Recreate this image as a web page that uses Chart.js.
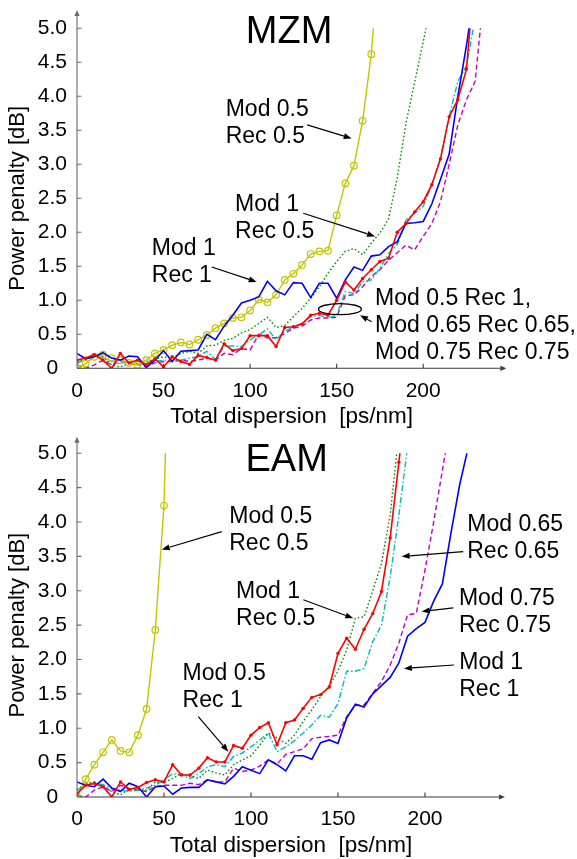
<!DOCTYPE html>
<html><head><meta charset="utf-8">
<script src="https://cdn.jsdelivr.net/npm/chart.js@4.4.1/dist/chart.umd.min.js"></script>
<style>
html,body{margin:0;padding:0;background:#fff;}
#wrap{position:relative;width:577px;height:859px;overflow:hidden;background:#fff;}
canvas{position:absolute;left:0;}
</style></head><body>
<div id="wrap">
<canvas id="mzm" width="577" height="430" style="top:0px"></canvas>
<canvas id="eam" width="577" height="429" style="top:430px"></canvas>
</div>
<script>
// ---------- data ----------
const dispersion = [0,5,10,15,20,25,30,35,40,45,50,55,60,65,70,75,80,85,90,95,100,105,110,115,120,125,130,135,140,145,150,155,160,165,170,175,180,185,190,195,200,205,210,215,220,225,230,235];
const xTickValues = [0,50,100,150,200];
const xTickLabels = ['0','50','100','150','200'];
const yTickValues = [0,0.5,1,1.5,2,2.5,3,3.5,4,4.5,5];
const yTickLabels = ['0','0.5','1.0','1.5','2.0','2.5','3.0','3.5','4.0','4.5','5.0'];
const xAxisTitle = 'Total dispersion  [ps/nm]';
const yAxisTitle = 'Power penalty [dB]';

// MZM panel
const mzmMod05Rec05 = [0.00,0.07,0.17,0.20,0.15,0.12,0.08,0.05,0.12,0.22,0.27,0.34,0.38,0.35,0.42,0.49,0.59,0.66,0.74,0.75,0.85,1.01,0.97,1.08,1.30,1.39,1.52,1.68,1.72,1.73,2.25,2.72,2.98,3.64,4.62,6.20];
const mzmMod1Rec05 = [0.10,0.12,0.20,0.17,0.05,0.02,0.07,0.06,0.10,0.13,0.17,0.15,0.22,0.25,0.22,0.33,0.34,0.41,0.44,0.52,0.57,0.66,0.75,0.60,0.63,0.76,0.88,1.03,1.20,1.40,1.57,1.72,1.76,1.67,1.84,1.99,2.20,2.80,3.60,4.20,4.80,5.40];
const mzmMod1Rec1 = [0.22,0.14,0.17,0.23,0.15,0.12,0.18,0.17,0.01,0.12,0.26,0.10,0.25,0.26,0.27,0.50,0.42,0.62,0.78,0.96,1.00,1.05,1.28,1.14,1.08,1.26,1.25,1.04,1.25,1.25,1.03,1.30,1.49,1.44,1.65,1.67,1.79,1.86,2.13,2.14,2.16,2.42,2.78,3.15,4.00,4.75,5.60];
const mzmMod05Rec1 = [0.12,0.15,0.20,0.12,0.00,0.22,0.08,0.12,0.05,0.14,0.02,0.17,0.10,0.06,0.19,0.16,0.12,0.36,0.26,0.29,0.48,0.48,0.48,0.32,0.60,0.61,0.65,0.78,0.81,0.78,1.00,1.27,1.15,1.32,1.45,1.57,1.62,2.00,2.13,2.30,2.45,2.70,3.08,3.70,3.95,4.40,5.90];
const mzmMod065Rec065 = [0.07,0.15,0.20,0.15,0.10,0.12,0.08,0.05,0.07,0.10,0.12,0.12,0.12,0.15,0.17,0.25,0.13,0.32,0.33,0.32,0.42,0.49,0.58,0.42,0.54,0.61,0.66,0.76,0.78,0.74,0.78,1.13,1.10,1.27,1.30,1.47,1.69,1.82,2.18,2.28,2.38,2.70,3.10,3.70,4.22,4.45,5.15];
const mzmMod075Rec075 = [0.05,0.00,0.05,0.12,0.05,0.10,0.07,0.06,0.03,0.08,0.10,0.10,0.12,0.10,0.12,0.15,0.12,0.22,0.20,0.29,0.27,0.50,0.45,0.45,0.51,0.59,0.62,0.71,0.74,0.74,0.75,1.07,1.08,1.20,1.35,1.45,1.59,1.70,1.81,1.74,1.94,2.13,2.45,3.00,3.58,3.95,4.22,5.50];

// EAM panel
const eamMod05Rec05 = [0.00,0.26,0.47,0.65,0.83,0.67,0.65,0.90,1.28,2.43,4.24,9.00];
const eamMod05Rec1 = [0.05,0.17,0.20,0.15,0.00,0.22,0.11,0.14,0.21,0.25,0.22,0.47,0.32,0.32,0.42,0.57,0.51,0.51,0.75,0.71,0.90,1.01,1.08,0.76,1.08,1.12,1.29,1.45,1.49,1.60,2.09,2.31,2.15,2.44,2.67,2.99,3.77,4.87,6.00];
const eamMod1Rec05 = [0.10,0.20,0.22,0.15,0.08,0.03,0.12,0.10,0.10,0.22,0.21,0.27,0.34,0.30,0.27,0.39,0.35,0.32,0.47,0.54,0.60,0.75,0.93,0.86,0.78,0.90,1.10,1.27,1.46,1.62,1.83,2.14,2.60,2.62,3.00,3.40,4.10,5.30];
const eamMod065Rec065 = [0.10,0.17,0.20,0.18,0.12,0.10,0.08,0.10,0.13,0.17,0.25,0.34,0.32,0.27,0.34,0.44,0.47,0.44,0.59,0.64,0.73,0.83,0.93,0.66,0.73,0.82,0.93,1.05,1.19,1.16,1.36,1.83,1.83,1.87,2.26,2.50,3.20,4.10,5.10];
const eamMod075Rec075 = [0.03,0.00,0.10,0.15,0.08,0.17,0.12,0.10,0.08,0.15,0.17,0.17,0.17,0.20,0.18,0.25,0.22,0.22,0.42,0.37,0.39,0.45,0.54,0.48,0.62,0.66,0.70,0.85,0.87,0.88,0.90,1.17,1.33,1.34,1.51,1.68,1.92,2.24,2.65,2.67,3.30,4.00,4.75,5.50];
const eamMod1Rec1 = [0.22,0.17,0.15,0.26,0.13,0.08,0.20,0.15,0.00,0.15,0.16,0.04,0.13,0.14,0.14,0.25,0.22,0.19,0.30,0.44,0.39,0.34,0.54,0.47,0.38,0.60,0.60,0.55,0.79,0.83,0.78,1.15,1.35,1.31,1.50,1.62,1.74,1.95,2.34,2.45,2.54,2.85,3.10,3.85,4.55,5.10];

// annotations (anchored in data units)
const mzmNotes = [
  {lines:['Mod 0.5','Rec 0.5'], at:[85.9,3.80], from:[133.0,3.58], to:[158.7,3.38]},
  {lines:['Mod 1','Rec 0.5'], at:[91.3,2.40], from:[130.7,2.28], to:[172.2,1.94]},
  {lines:['Mod 1','Rec 1'], at:[43.2,1.76], from:[77.8,1.49], to:[103.8,1.27]},
  {lines:['Mod 0.5 Rec 1,','Mod 0.65 Rec 0.65,','Mod 0.75 Rec 0.75'], at:[172.2,1.03], from:[170.2,0.685], to:[163.5,0.78]}
];
const mzmEllipse = {center:[151.9,0.87]};
const eamNotes = [
  {lines:['Mod 0.5','Rec 0.5'], at:[87.5,4.08], from:[83.2,3.86], to:[48.7,3.60]},
  {lines:['Mod 1','Rec 0.5'], at:[91.4,2.99], from:[130.1,2.87], to:[158.8,2.60]},
  {lines:['Mod 0.65','Rec 0.65'], at:[224.3,3.96], from:[222.0,3.57], to:[186.6,3.50]},
  {lines:['Mod 0.75','Rec 0.75'], at:[219.5,2.89], from:[216.3,2.75], to:[198.1,2.70]},
  {lines:['Mod 1','Rec 1'], at:[219.7,1.95], from:[216.7,1.92], to:[187.9,1.87]},
  {lines:['Mod 0.5','Rec 1'], at:[60.7,1.80], from:[69.7,1.17], to:[87.0,0.66]}
];

// ---------- rendering ----------
const FONT = '"Liberation Sans", Arial, Helvetica, sans-serif';
Chart.defaults.font.family = FONT;
Chart.defaults.color = '#000';

const STYLES = {
  red:    {borderColor:'#ff0000', borderWidth:1.6, pointRadius:1.7, pointBackgroundColor:'#ff0000', pointBorderWidth:0},
  blue:   {borderColor:'#0000ff', borderWidth:1.6},
  yellow: {borderColor:'#c4c400', borderWidth:1.4, pointRadius:3.3, pointBackgroundColor:'rgba(0,0,0,0)', pointBorderColor:'#c4c400', pointBorderWidth:1.2},
  green:  {borderColor:'#0a8c0a', borderWidth:1.4, borderDash:[1.6,2.2]},
  cyan:   {borderColor:'#00bcbc', borderWidth:1.4, borderDash:[6,2.2,1.6,2.2]},
  magenta:{borderColor:'#c000c0', borderWidth:1.4, borderDash:[5,3]}
};

function series(values, style) {
  return Object.assign({
    data: values.map((v,i) => ({x: dispersion[i], y: v})),
    showLine:true, tension:0, clip:0, fill:false, pointRadius:0, pointHoverRadius:0
  }, style);
}

function drawArrow(ctx, x1, y1, x2, y2, len, half) {
  const a = Math.atan2(y2-y1, x2-x1);
  const bx = x2 - len*Math.cos(a), by = y2 - len*Math.sin(a);
  ctx.beginPath(); ctx.moveTo(x1,y1); ctx.lineTo(bx,by); ctx.stroke();
  ctx.beginPath(); ctx.moveTo(x2,y2);
  ctx.lineTo(bx + half*Math.sin(a), by - half*Math.cos(a));
  ctx.lineTo(bx - half*Math.sin(a), by + half*Math.cos(a));
  ctx.closePath(); ctx.fill();
}

function decor(panel) {
  return {
    id:'decor',
    afterDraw(chart) {
      const ctx = chart.ctx, xs = chart.scales.x, ys = chart.scales.y;
      const X = v => xs.getPixelForValue(v), Y = v => ys.getPixelForValue(v);
      const x0 = X(0), y0 = Y(0);
      ctx.save();
      // y axis with arrow
      ctx.lineWidth = 1.1;
      ctx.strokeStyle = ctx.fillStyle = '#6a6a6a';
      drawArrow(ctx, x0, y0, x0, Y(panel.yArrow), 6, 2.6);
      ctx.beginPath();
      yTickValues.forEach(v => { if (v > 0) { ctx.moveTo(x0, Y(v)); ctx.lineTo(x0+4.5, Y(v)); } });
      ctx.stroke();
      // x axis with arrow
      ctx.strokeStyle = ctx.fillStyle = '#3a3a3a';
      drawArrow(ctx, x0, y0, X(panel.xMax), y0, 6, 2.6);
      ctx.beginPath();
      xTickValues.forEach(v => { if (v > 0) { ctx.moveTo(X(v), y0); ctx.lineTo(X(v), y0-4.5); } });
      ctx.stroke();
      // panel title
      ctx.fillStyle = '#000';
      ctx.font = '38px ' + FONT;
      ctx.textAlign = 'center'; ctx.textBaseline = 'middle';
      ctx.fillText(panel.title, X(panel.titleAt[0]), Y(panel.titleAt[1]));
      // annotations
      ctx.font = '23px ' + FONT;
      ctx.textAlign = 'left';
      ctx.strokeStyle = ctx.fillStyle = '#000';
      ctx.lineWidth = 1.2;
      panel.notes.forEach(n => {
        n.lines.forEach((t, i) => ctx.fillText(t, X(n.at[0]), Y(n.at[1]) + i*27));
        drawArrow(ctx, X(n.from[0]), Y(n.from[1]), X(n.to[0]), Y(n.to[1]), 8, 3);
      });
      if (panel.ellipse) {
        ctx.beginPath();
        ctx.ellipse(X(panel.ellipse.center[0]), Y(panel.ellipse.center[1]), 21.5, 5.5, 0, 0, Math.PI*2);
        ctx.lineWidth = 1.3;
        ctx.stroke();
      }
      ctx.restore();
    }
  };
}

function makeChart(id, panel) {
  return new Chart(document.getElementById(id), {
    type:'scatter',
    data:{datasets: panel.datasets},
    options:{
      responsive:false, animation:false, events:[],
      layout:{padding:{left:0, right:panel.padRight, top:panel.padTop, bottom:0}},
      plugins:{legend:{display:false}, tooltip:{enabled:false}},
      scales:{
        x:{type:'linear', min:0, max:panel.xMax,
           grid:{display:false, drawTicks:false}, border:{display:false},
           afterBuildTicks: s => { s.ticks = xTickValues.map(v => ({value:v})); },
           ticks:{autoSkip:false, maxRotation:0, minRotation:0, padding:10, color:'#000', font:{size:21},
                  callback:(v,i) => xTickLabels[i]},
           title:{display:true, text:xAxisTitle, color:'#000', font:{size:22.5}, padding:{top:0, bottom:0}},
           afterFit: s => { s.height = panel.xAxisH; }
        },
        y:{type:'linear', min:0, max:5,
           grid:{display:false, drawTicks:false}, border:{display:false},
           afterBuildTicks: s => { s.ticks = yTickValues.map(v => ({value:v})); },
           ticks:{autoSkip:false, crossAlign:'center', padding:10, color:'#000', font:{size:21},
                  callback:(v,i) => yTickLabels[i]},
           title:{display:true, text:yAxisTitle, color:'#000', font:{size:22}, padding:{top:4.8, bottom:0}},
           afterFit: s => { s.width = 77; }
        }
      }
    },
    plugins:[decor(panel)]
  });
}

makeChart('mzm', {
  title:'MZM', titleAt:[122.5,4.94], xMax:248, yArrow:5.27,
  padRight:577-506.3, padTop:28.3, xAxisH:61.7,
  notes:mzmNotes, ellipse:mzmEllipse,
  datasets:[
    series(mzmMod05Rec1, STYLES.red),
    series(mzmMod1Rec1, STYLES.blue),
    series(mzmMod05Rec05, STYLES.yellow),
    series(mzmMod1Rec05, STYLES.green),
    series(mzmMod065Rec065, STYLES.cyan),
    series(mzmMod075Rec075, STYLES.magenta)
  ]
});

makeChart('eam', {
  title:'EAM', titleAt:[120.5,4.90], xMax:246, yArrow:5.24,
  padRight:577-505, padTop:23.3, xAxisH:62,
  notes:eamNotes, ellipse:null,
  datasets:[
    series(eamMod05Rec1, STYLES.red),
    series(eamMod1Rec1, STYLES.blue),
    series(eamMod05Rec05, STYLES.yellow),
    series(eamMod1Rec05, STYLES.green),
    series(eamMod065Rec065, STYLES.cyan),
    series(eamMod075Rec075, STYLES.magenta)
  ]
});
</script>
</body></html>
